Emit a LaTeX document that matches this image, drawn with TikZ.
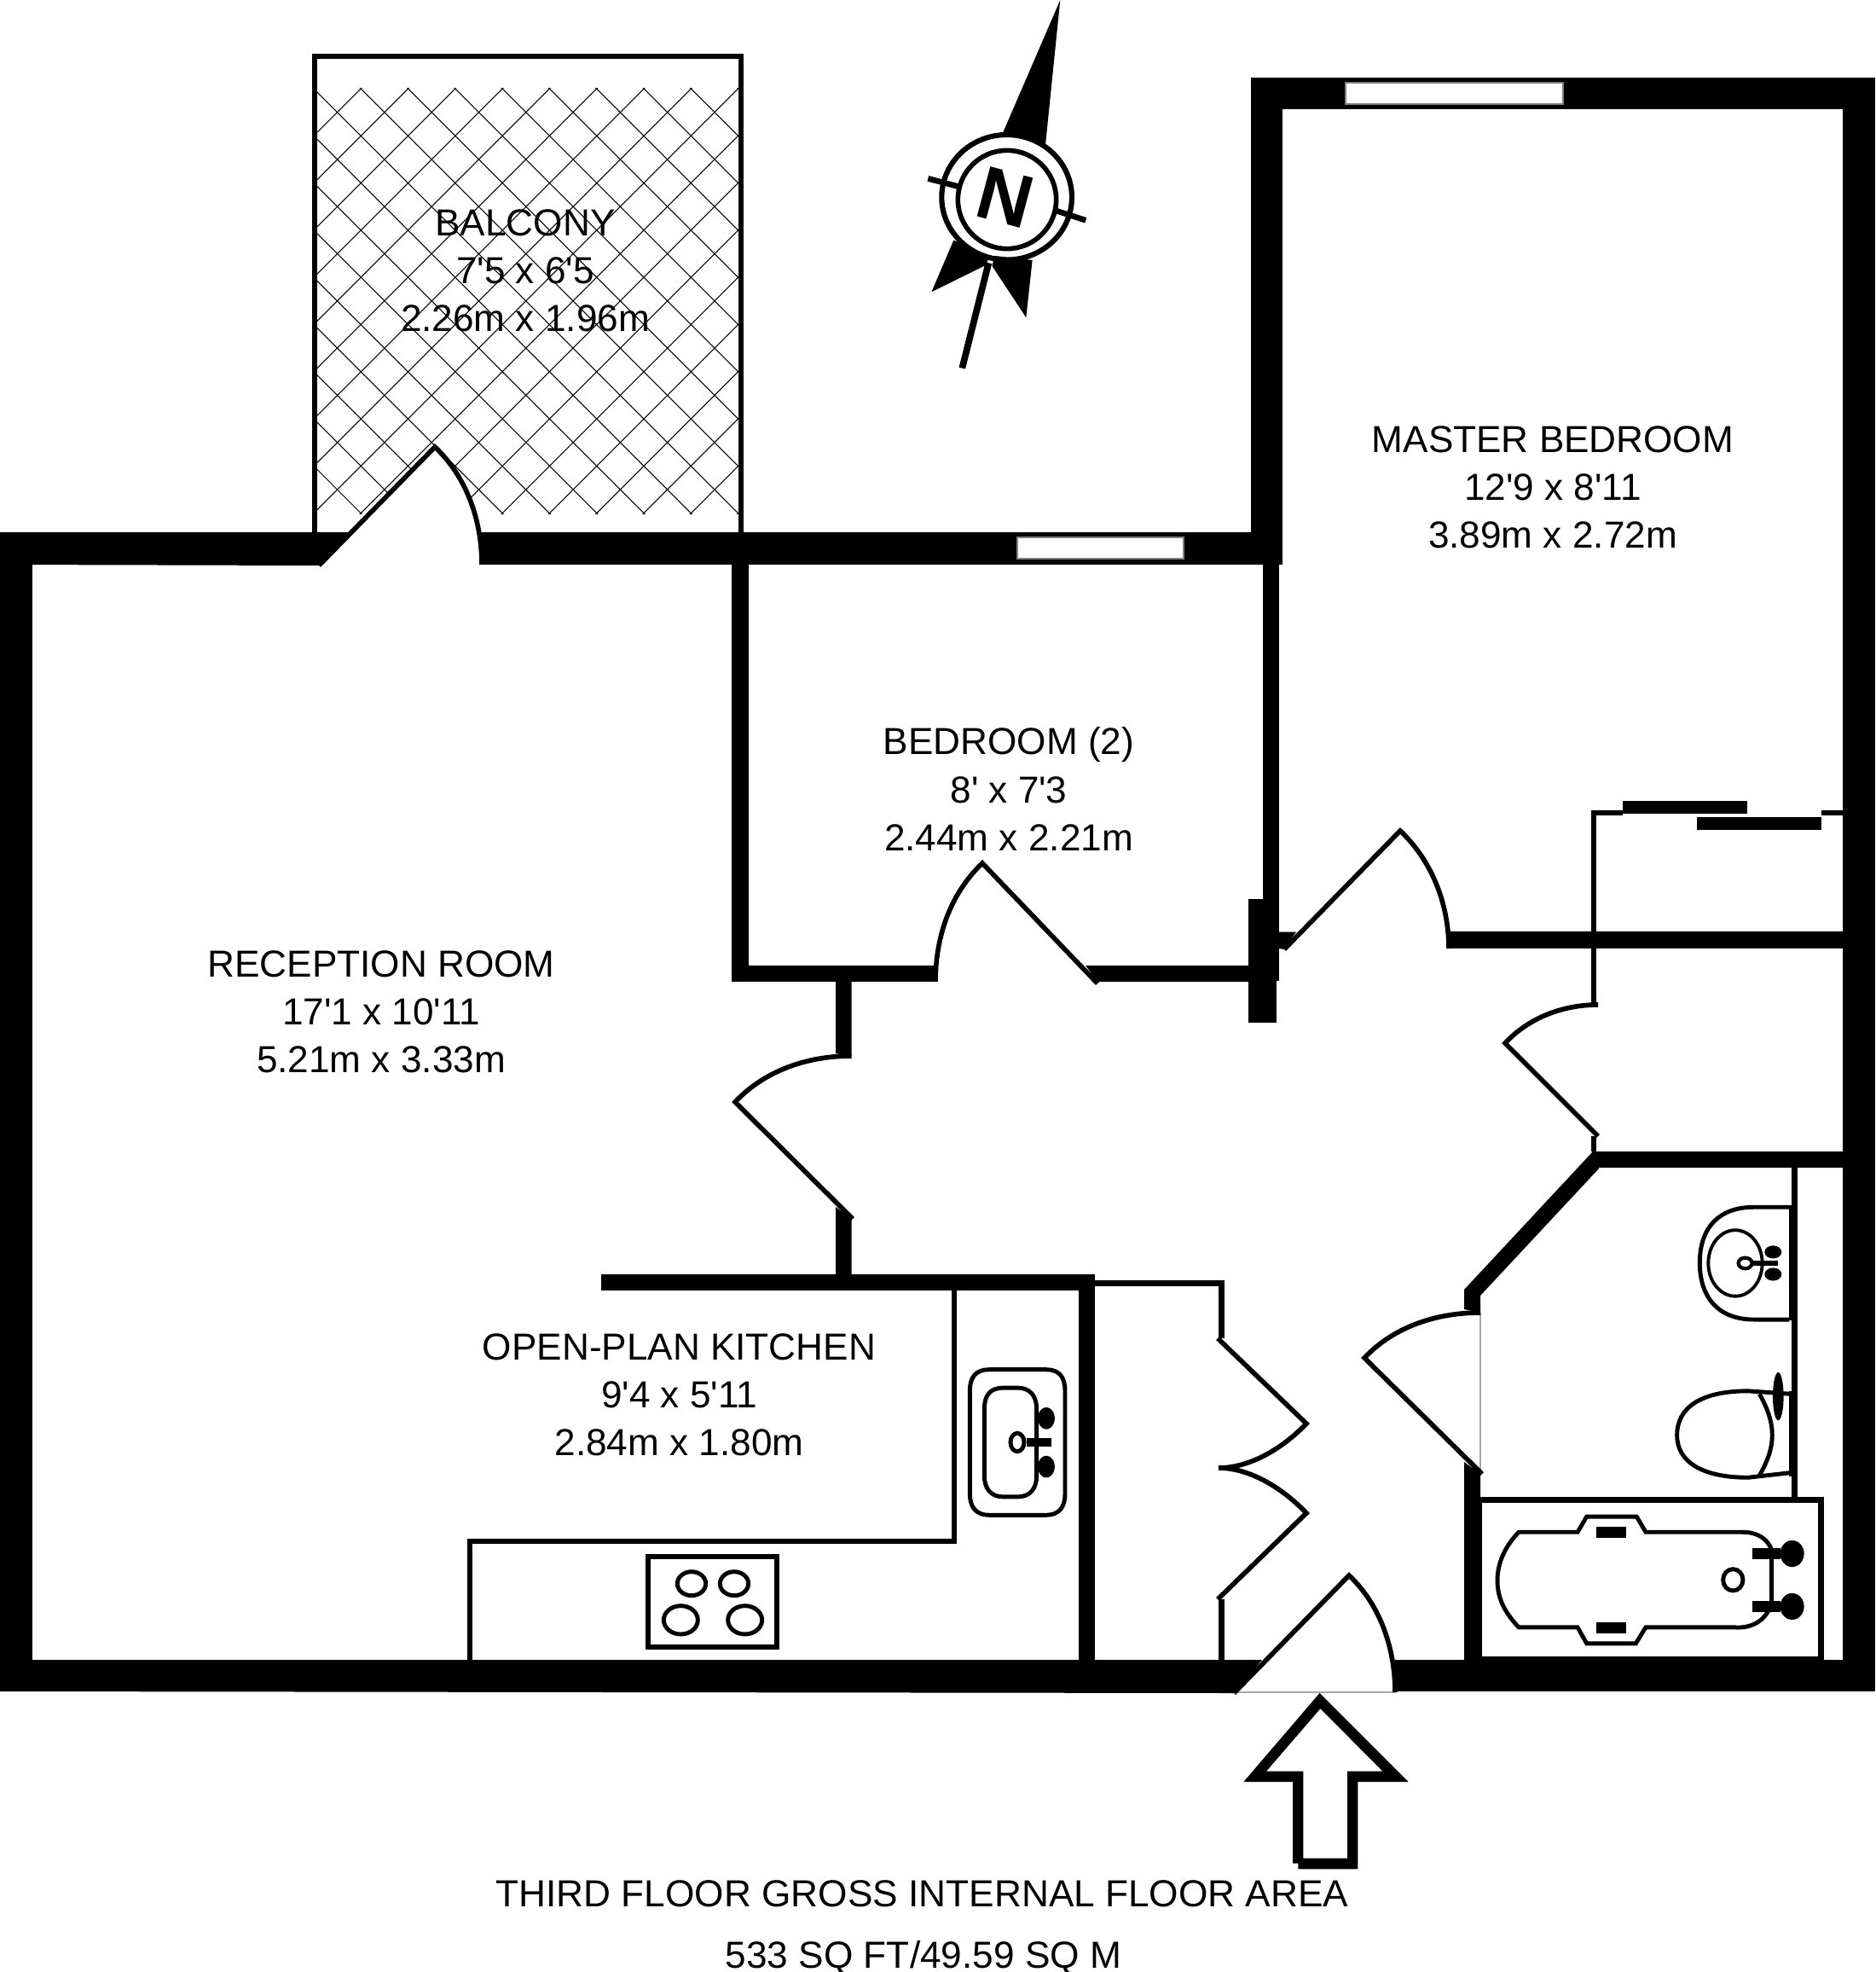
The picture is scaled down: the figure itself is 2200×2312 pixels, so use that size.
\documentclass[tikz,border=0pt]{standalone}
\usepackage{fontspec}
\newfontfamily\labelfont{Liberation Sans}
\setmainfont{Liberation Sans}
\tikzset{
  wallfill/.style={fill=black,draw=none},
  leaf/.style={draw=black,line width=1.6pt,miter limit=10,fill=none},
  hatchline/.style={draw=black,line width=.3pt},
  greyline/.style={draw=black!35,line width=.3pt},
  glass/.style={fill=white,draw=black!50,line width=.3pt},
  fixture/.style={draw=black,line width=1.4pt,fill=none},
  roomlabel/.style={align=center,inner sep=0pt,font=\labelfont\fontsize{12.55}{15.93}\selectfont},
  footlabel/.style={inner sep=0pt,font=\labelfont\fontsize{12.57}{15}\selectfont}
}
\begin{document}
\begin{tikzpicture}[x=.01cm,y=-.01cm]
\path[use as bounding box,fill=white] (0,0) rectangle (2200,2312);

% balcony hatching
\begin{scope}
\clip (372,104) rectangle (866,602);
\foreach \k in {-10,...,8}{
  \pgfmathsetmacro{\cc}{319.2+55.3*\k}
  \draw[hatchline] (300,{300-\cc}) -- (900,{900-\cc});
}
\foreach \k in {-1,...,17}{
  \pgfmathsetmacro{\cc}{527.2+55.3*\k}
  \draw[hatchline] (300,{\cc-300}) -- (900,{\cc-900});
}
\end{scope}
% balcony frame
\fill[wallfill] (366,63) rectangle (872,69);
\fill[wallfill] (366,63) rectangle (372,626);
\fill[wallfill] (866,63) rectangle (872,626);

% balcony door sector
\fill[white] (374,663) -- (510,524) .. controls (548,560) and (565,611) .. (565,662) -- cycle;

% outer and main walls
\fill[wallfill] (0,624) -- (408,624) -- (374,663) -- (0,662) -- cycle;
\fill[wallfill] (0,624) rectangle (38,1983);
\fill[wallfill] (0,1946) -- (1480,1946) -- (1447,1985) -- (0,1983) -- cycle;
\fill[wallfill] (1636,1946) rectangle (2199,1983);
\fill[wallfill] (2161,91) rectangle (2199,1983);
\fill[wallfill] (1467,91) rectangle (2199,128);
\fill[wallfill] (1467,91) rectangle (1504,662);
\fill[wallfill] (565,624) rectangle (1504,662);
% bedroom 2
\fill[wallfill] (858,662) rectangle (878,1151);
\fill[wallfill] (858,1132) rectangle (1097,1151);
\fill[wallfill] (1273,1132) -- (1464,1132) -- (1464,1151) -- (1287,1151) -- cycle;
\fill[wallfill] (1481,662) rectangle (1499.5,1150);
\fill[wallfill] (1464,1054) rectangle (1497,1199);
% reception / hall
\fill[wallfill] (980,1151) -- (998.5,1151) -- (998.5,1238) -- (980,1235) -- cycle;
\fill[wallfill] (980,1415) -- (998.5,1429) -- (998.5,1495) -- (980,1495) -- cycle;
\fill[wallfill] (705,1494) rectangle (1284,1513);
\fill[wallfill] (1265,1494) rectangle (1284,1946);
% master bedroom
\fill[wallfill] (1499,1092.5) -- (1520,1092.5) -- (1506,1113) -- (1499,1112) -- cycle;
\fill[wallfill] (1699,1092) rectangle (2161,1112);
\fill[wallfill] (1867,1350) rectangle (2161,1369);
% bathroom
\fill[wallfill] (1717,1512) -- (1868,1350) -- (1875,1370) -- (1736,1519) -- (1736,1539) -- (1717,1535) -- cycle;
\fill[wallfill] (1717,1714) -- (1736,1728) -- (1736,1946) -- (1717,1946) -- cycle;
\fill[wallfill] (2101,1369) rectangle (2108,1756);
\fill[wallfill] (2098,1413) rectangle (2101,1548);
\fill[wallfill] (2098,1631) rectangle (2101,1731);
\fill[wallfill] (1736,1755) rectangle (2139,1762);
\fill[wallfill] (1736,1755) rectangle (1738,1946);
\fill[wallfill] (2132,1755) rectangle (2139,1946);
\fill[wallfill] (1736,1942) rectangle (2139,1946);
% thin partitions
\fill[wallfill] (1116,1513) rectangle (1122,1810);
\fill[wallfill] (548,1804) rectangle (1122,1810);
\fill[wallfill] (548,1804) rectangle (554,1946);
\fill[wallfill] (1284,1501) rectangle (1436,1507.5);
\fill[wallfill] (1429,1501) rectangle (1436,1569);
\fill[wallfill] (1429,1875) rectangle (1436,1946);
\fill[wallfill] (1866,950) rectangle (1872,1180);
\fill[wallfill] (1866,1332) rectangle (1872,1350);
\fill[wallfill] (1866,950) rectangle (1903,956);
\fill[wallfill] (2136,950) rectangle (2161,956);
\fill[wallfill] (1903,939) rectangle (2049,954);
\fill[wallfill] (1990,958) rectangle (2136,973);

% windows
\draw[glass] (1578,97) rectangle (1833,122);
\draw[glass] (1193,630) rectangle (1388,655);

% thresholds
\draw[greyline] (1736,1539) -- (1736,1728);
\draw[greyline] (1447,1984) -- (1636,1984);

% doors
\draw[leaf] (565,662) .. controls (565,611) and (548,560) .. (510,524) -- (374,663);
\draw[leaf] (1097,1151) .. controls (1097,1099) and (1114,1048) .. (1152,1012) -- (1287,1153);
\draw[leaf] (1699,1112) .. controls (1699,1061) and (1680,1010) .. (1642,974) -- (1506,1113);
\draw[leaf] (998.5,1238) .. controls (947,1238) and (897,1255) .. (862,1292) -- (1000,1429);
\draw[leaf] (1874,1178) .. controls (1833,1178) and (1793,1193) .. (1765,1223) -- (1874,1332);
\draw[leaf] (1736,1539) .. controls (1685,1539) and (1635,1555) .. (1600,1592) -- (1738,1728);
\draw[leaf] (1429,1721) .. controls (1467,1721) and (1506,1696.5) .. (1532,1669) -- (1428,1569);
\draw[leaf] (1429,1721) .. controls (1467,1721) and (1506,1746.5) .. (1532,1774) -- (1428,1875);
\draw[leaf] (1636,1984) .. controls (1636,1933) and (1619,1882) .. (1582,1847) -- (1447,1985);

% entrance arrow
\begin{scope}[shift={(1400,1480)},xscale=.3333,yscale=.459]
\fill[wallfill,even odd rule]
  (443,1100) -- (755,1327) -- (577,1327) -- (577,1550) -- (367,1550) -- (367,1535) -- (348,1535) -- (348,1327) -- (175,1327) -- cycle
  (445,1140) -- (255,1300) -- (385,1300) -- (385,1522) -- (540,1522) -- (540,1300) -- (665,1300) -- cycle;
\end{scope}

% hob
\begin{scope}[shift={(740,1800)},xscale=.3333,yscale=.3333]
\draw[fixture,line width=1.7pt] (61,76) rectangle (514,394);
\draw[fixture] (213,170) ellipse [x radius=50,y radius=42];
\draw[fixture] (363,170) ellipse [x radius=50,y radius=42];
\draw[fixture] (175,298) ellipse [x radius=60,y radius=50];
\draw[fixture] (401,298) ellipse [x radius=60,y radius=50];
\end{scope}

% kitchen sink
\begin{scope}[shift={(1080,1480)},xscale=.3333,yscale=.357]
\fill[wallfill] (441,512) ellipse [x radius=30,y radius=36];
\fill[wallfill] (441,671) ellipse [x radius=30,y radius=36];
\draw[fixture] (172,422) .. controls (172,375) and (195,352) .. (240,352) -- (440,352) .. controls (485,352) and (507,375) .. (507,422) -- (507,760) .. controls (507,805) and (485,830) .. (440,830) -- (240,830) .. controls (195,830) and (172,805) .. (172,760) -- cycle;
\draw[fixture,fill=white] (223,482) .. controls (223,435) and (245,412) .. (290,412) -- (340,412) .. controls (385,412) and (407,440) .. (407,482) -- (407,700) .. controls (407,742) and (385,770) .. (340,770) -- (290,770) .. controls (245,770) and (223,742) .. (223,700) -- cycle;
\fill[wallfill] (372,577) rectangle (458,606);
\draw[fixture] (339,591) ellipse [x radius=24,y radius=30];
\end{scope}

% bathroom fixtures
\begin{scope}[shift={(1700,1350)},xscale=.3333,yscale=.421]
% basin
\draw[fixture] (1195,155) -- (1070,155) .. controls (950,155) and (880,210) .. (880,310) .. controls (880,410) and (950,468) .. (1070,468) -- (1195,468);
\draw[fixture,line width=1.1pt] (1005,311) ellipse [x radius=95,y radius=92];
\fill[wallfill] (1138,280) ellipse [x radius=30,y radius=18];
\fill[wallfill] (1138,342) ellipse [x radius=30,y radius=18];
\fill[wallfill] (1060,304) rectangle (1155,318);
\draw[fixture,line width=1.2pt,fill=white] (1040,311) ellipse [x radius=24,y radius=15];
% toilet
\draw[fixture] (1195,675) -- (1050,667) .. controls (890,667) and (800,710) .. (800,790) .. controls (800,865) and (890,908) .. (1050,908) -- (1195,895);
\draw[fixture] (1090,675) .. controls (1150,760) and (1150,820) .. (1090,902);
\fill[wallfill] (1156,682) ellipse [x radius=19,y radius=67];
% bath
\draw[fixture] (243,1060) -- (450,1060) -- (482,1017) -- (658,1017) -- (690,1060) -- (1030,1060) .. controls (1085,1060) and (1120,1080) .. (1133,1110) -- (1133,1255) .. controls (1120,1300) and (1070,1330) .. (1000,1325) -- (690,1325) -- (655,1370) -- (482,1370) -- (450,1325) -- (243,1325) .. controls (195,1285) and (168,1245) .. (168,1195) .. controls (168,1145) and (195,1100) .. (243,1060) -- cycle;
\fill[wallfill] (517,1046) rectangle (621,1076);
\fill[wallfill] (517,1311) rectangle (621,1341);
\fill[wallfill] (1065,1105) rectangle (1165,1135);
\fill[wallfill] (1065,1252) rectangle (1165,1282);
\fill[wallfill] (1205,1120) ellipse [x radius=42,y radius=37];
\fill[wallfill] (1205,1267) ellipse [x radius=42,y radius=37];
\draw[fixture] (997,1193) ellipse [x radius=35,y radius=30];
\end{scope}

% compass
\begin{scope}[shift={(1000,0)},xscale=.3333,yscale=.3333]
\fill[wallfill] (730,0) -- (527,470) -- (678,510) -- cycle;
\fill[wallfill] (355,845) -- (277,1027) -- (470,932) -- (480,900) -- cycle;
\fill[wallfill] (490,935) -- (610,1117) -- (632,915) -- (500,900) -- cycle;
\draw[black,line width=2.2pt] (478,925) -- (385,1295);
\draw[black,line width=1.9pt] (265,628) -- (375,657);
\draw[black,line width=1.9pt] (718,742) -- (820,775);
\draw[black,line width=1.75pt,fill=none] (542,694) ellipse [x radius=229,y radius=220];
\draw[black,line width=1.6pt,fill=white] (543,702) circle [radius=173];
\node[inner sep=0pt,rotate=-15,font=\labelfont\fontsize{25}{25}\bfseries\selectfont] (northmark) at (536,696) {N};
\end{scope}

% labels
\node[roomlabel] (balcony) at (616,317) {BALCONY\\7'5 x 6'5\\2.26m x 1.96m};
\node[roomlabel] (master) at (1821,571) {MASTER BEDROOM\\12'9 x 8'11\\3.89m x 2.72m};
\node[roomlabel] (bedroom) at (1183,925) {BEDROOM (2)\\8' x 7'3\\2.44m x 2.21m};
\node[roomlabel] (reception) at (447,1186) {RECEPTION ROOM\\17'1 x 10'11\\5.21m x 3.33m};
\node[roomlabel] (kitchen) at (796.5,1635) {OPEN-PLAN KITCHEN\\9'4 x 5'11\\2.84m x 1.80m};
\node[footlabel] (floorarea) at (1081.5,2220) {THIRD FLOOR GROSS INTERNAL FLOOR AREA};
\node[footlabel,anchor=base] (floorsize) at (1083,2307) {533 SQ FT/49.59 SQ M};
\end{tikzpicture}
\end{document}
